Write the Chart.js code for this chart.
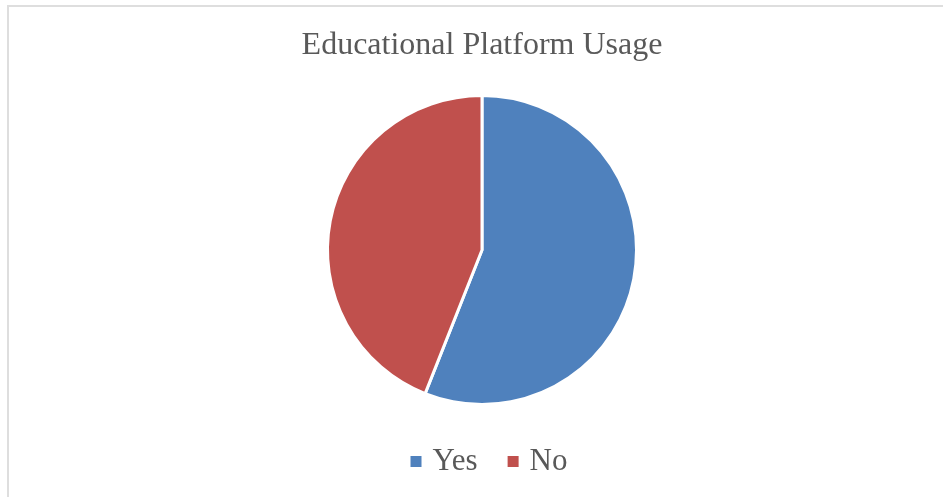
<!DOCTYPE html>
<html>
<head>
<meta charset="utf-8">
<title>Educational Platform Usage</title>
<script src="https://cdn.jsdelivr.net/npm/chart.js@4"></script>
<style>
  html, body { margin: 0; padding: 0; background: #ffffff; overflow: hidden; }
  #frame {
    position: absolute; left: 7px; top: 5px;
    width: 2000px; height: 2000px;
    border-left: 2px solid #dedede; border-top: 2px solid #dedede;
    box-sizing: border-box;
  }
  #wrap { position: absolute; left: 0; top: 0; width: 943px; height: 497px; }
</style>
</head>
<body>
<div id="frame"></div>
<div id="wrap"><canvas id="chart" width="943" height="497"></canvas></div>
<script>
// Survey answers and their shares (percent)
const categories = ['Yes', 'No'];
const shares = [56, 44];
const sliceColors = ['#4F81BD', '#C0504D'];
const chartTitle = 'Educational Platform Usage';

const textColor = '#595959';
const serif = "'Liberation Serif', 'Times New Roman', serif";

// Legend row under the pie: small square + label for each category
const bottomLegend = {
  id: 'bottomLegend',
  afterDraw(chart, args, opts) {
    const ctx = chart.ctx;
    const labels = chart.data.labels;
    const colors = chart.data.datasets[0].backgroundColor;
    ctx.save();
    ctx.font = opts.fontSize + 'px ' + serif;
    ctx.textBaseline = 'alphabetic';
    ctx.textAlign = 'left';
    const box = opts.boxSize, gap = opts.boxGap, itemGap = opts.itemGap;
    const widths = labels.map(l => box + gap + ctx.measureText(l).width);
    const total = widths.reduce((a, b) => a + b, 0) + itemGap * (labels.length - 1);
    let x = opts.centerX - total / 2;
    labels.forEach((label, i) => {
      ctx.fillStyle = colors[i];
      ctx.fillRect(x, opts.baseline - opts.boxRaise - box, box, box);
      ctx.fillStyle = textColor;
      ctx.fillText(label, x + box + gap, opts.baseline);
      x += widths[i] + itemGap;
    });
    ctx.restore();
  }
};

new Chart(document.getElementById('chart'), {
  type: 'pie',
  data: {
    labels: categories,
    datasets: [{
      data: shares,
      backgroundColor: sliceColors,
      borderColor: '#ffffff',
      borderWidth: 3,
      hoverOffset: 0
    }]
  },
  options: {
    responsive: false,
    animation: false,
    events: [],
    radius: 154.5,
    layout: { padding: { left: 21, right: 0, top: 0, bottom: 91 } },
    plugins: {
      legend: { display: false },
      tooltip: { enabled: false },
      title: {
        display: true,
        text: chartTitle,
        color: textColor,
        font: { family: serif, size: 32, weight: 'normal' },
        padding: { top: 26, bottom: 29.6 }
      },
      bottomLegend: {
        fontSize: 31,
        boxSize: 11,
        boxGap: 11,
        itemGap: 30,
        centerX: 489,
        baseline: 470,
        boxRaise: 3
      }
    }
  },
  plugins: [bottomLegend]
});
</script>
</body>
</html>
